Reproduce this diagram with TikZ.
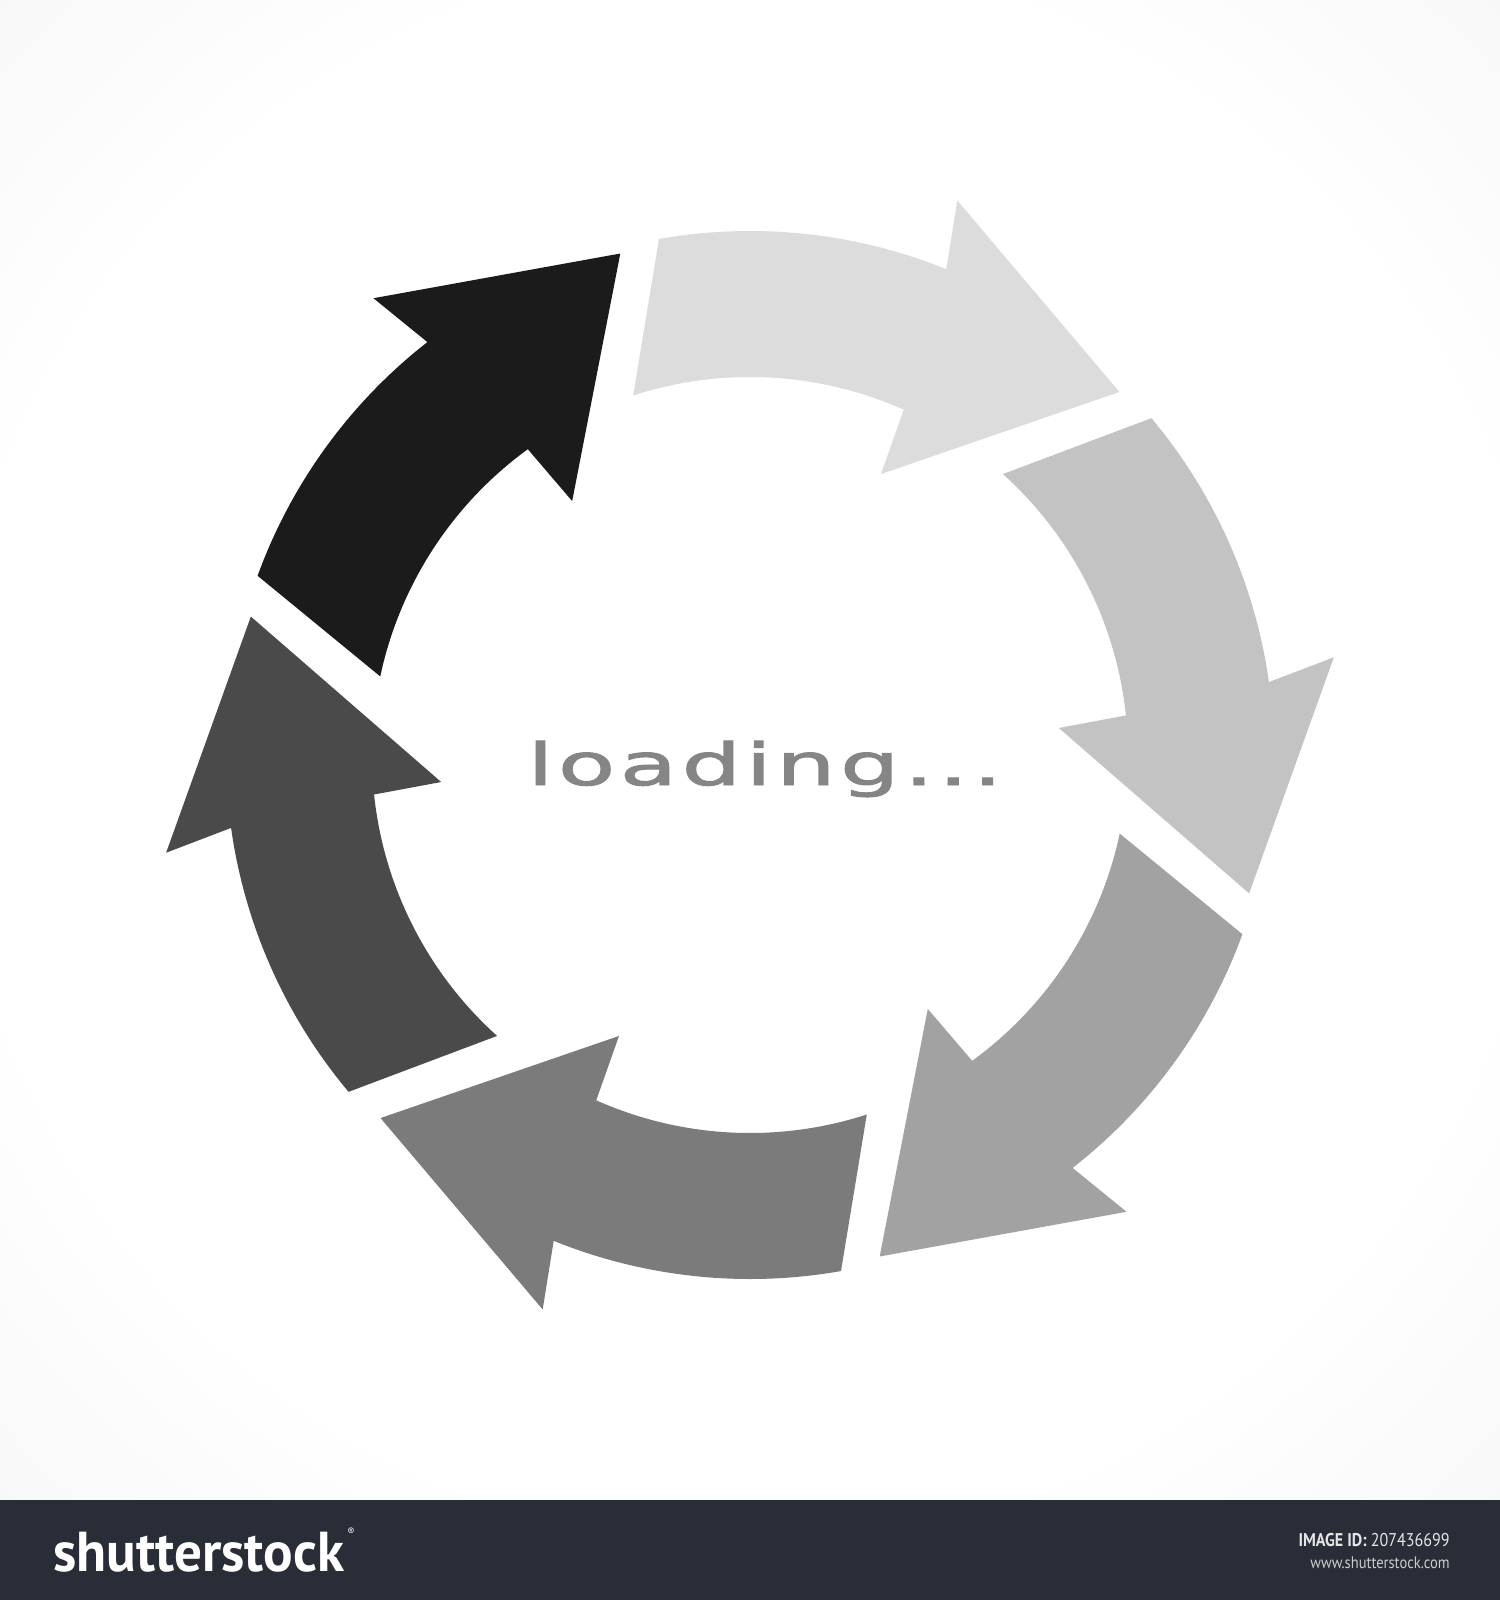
\documentclass[tikz,border=0pt]{standalone}
\usepackage{fontspec}
\usepackage{tikz}
\usetikzlibrary{positioning}

\newfontfamily\loadfont[LetterSpace=5, FakeBold=1.6]{DejaVu Sans}
\newfontfamily\barfont{PT Sans}

\definecolor{ringA}{HTML}{1B1B1B}
\definecolor{ringB}{HTML}{DCDCDC}
\definecolor{ringC}{HTML}{C3C3C3}
\definecolor{ringD}{HTML}{A2A2A2}
\definecolor{ringE}{HTML}{7B7B7B}
\definecolor{ringF}{HTML}{4A4A4A}
\definecolor{loadgray}{HTML}{858585}
\definecolor{barbg}{HTML}{282D37}

\pgfdeclareradialshading{vignette}{\pgfpoint{0bp}{0bp}}{color(0bp)=(white); color(26bp)=(white); color(72bp)=(black!13)}

\tikzset{
  bartext/.style={inner sep=0pt, font=\barfont},
}

\begin{document}
\begin{tikzpicture}
                        \useasboundingbox (-15,-16.9) rectangle (15,15.1);
                        \shade[shading=vignette] (-15,-14.9) rectangle (15,15.1);
                        \fill[barbg] (-15,-16.9) rectangle (15,-14.9);
                        % six arrows of the ring, clockwise from the black one
                        \foreach \turn/\tone in {0/ringA, -60/ringB, -120/ringC, -180/ringD, -240/ringE, -300/ringF}
                        \fill[\tone, rotate=\turn]
                        (160:10.48) arc[start angle=160, end angle=128, radius=10.48]
                        -- (129.5:11.84) -- (104.5:10.36) -- (125:6.2) -- (126:7.56)
                        arc[start angle=126, end angle=168, radius=7.56] -- cycle;
                        \node[text=loadgray, anchor=base, xscale=1.61, font=\loadfont\fontsize{33}{40}\selectfont] (loading) at (0.3,-0.6) {loading...};
                        \node[bartext, anchor=base west, text=white, xscale=0.98, font=\barfont\bfseries\fontsize{32}{38}\selectfont] (logo) at (-13.94,-16.32) {shutterstock};
                        \node[bartext, anchor=north west, text=white, font=\barfont\fontsize{6}{7}\selectfont, right=0.05 of logo.north east] (registered) {®};
                        \node[bartext, anchor=base east, text=white!90!black, xscale=0.87, font=\barfont\fontsize{10.5}{12}\selectfont] (imageid) at (14.0,-15.82) {\textbf{IMAGE ID:} 207436699};
                        \node[bartext, anchor=base east, text=white!80!black, xscale=0.87, font=\barfont\fontsize{9.5}{11}\selectfont] (site) at (14.0,-16.26) {www.shutterstock.com};
\end{tikzpicture}
\end{document}
